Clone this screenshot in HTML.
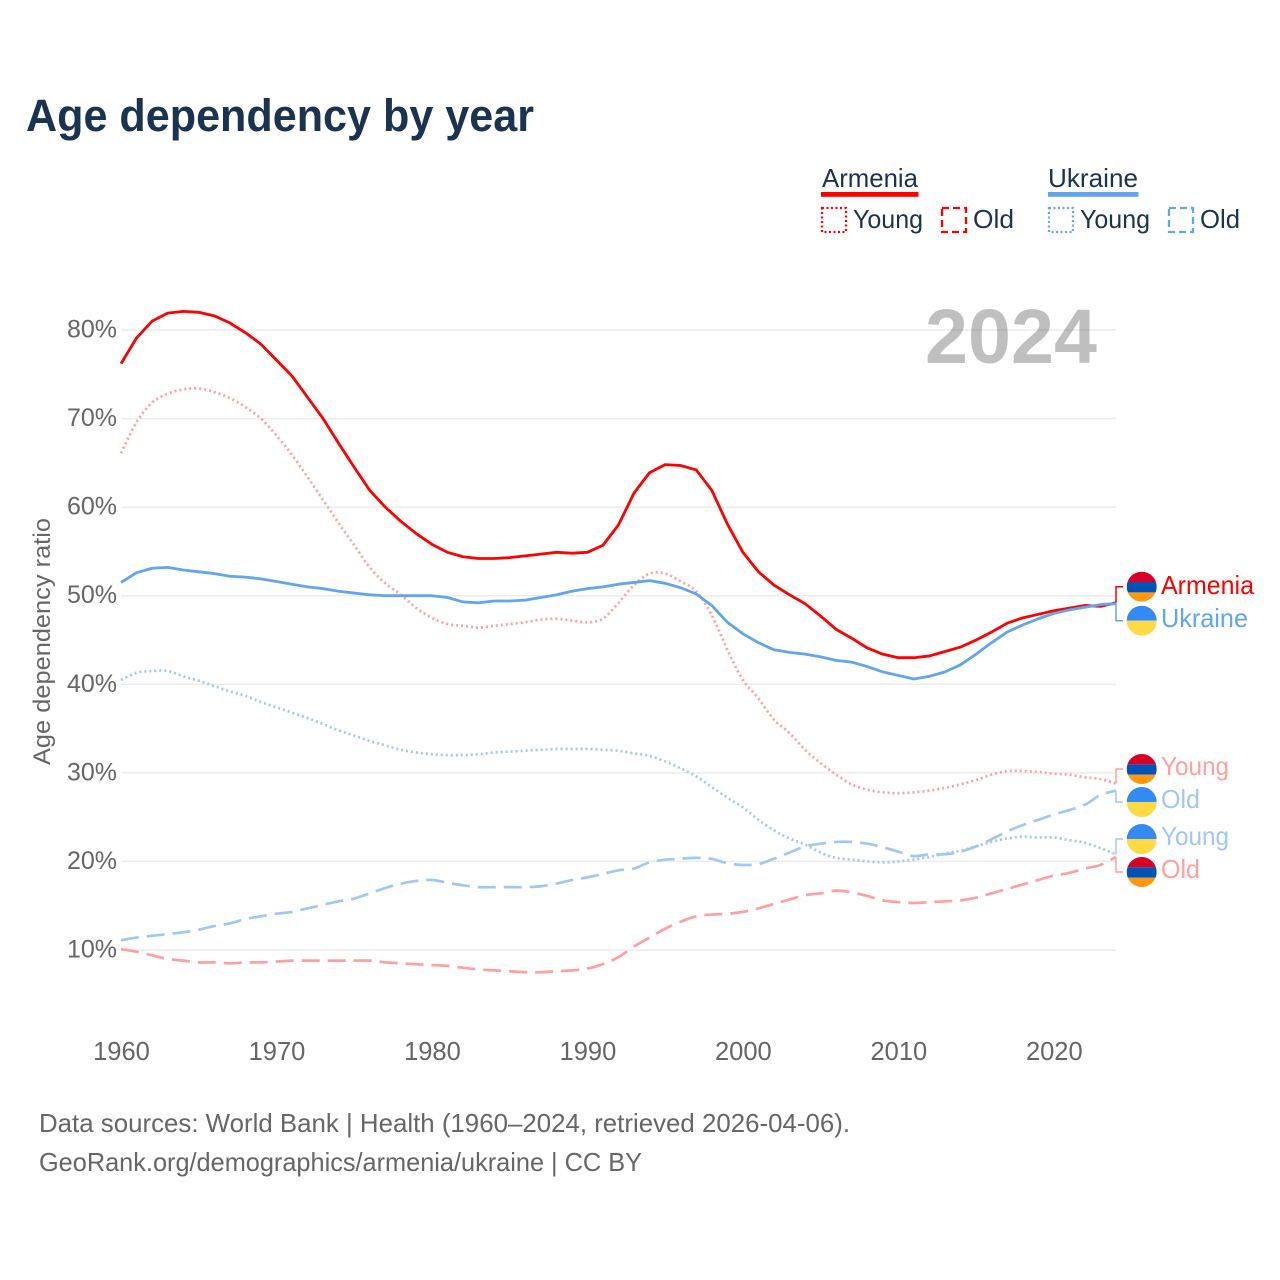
<!DOCTYPE html>
<html lang="en">
<head>
<meta charset="utf-8">
<title>Age dependency by year</title>
<style>
html,body{margin:0;padding:0;background:#fff;}
svg{display:block;font-family:"Liberation Sans",Arial,sans-serif;}
</style>
</head>
<body>
<svg id="chart" xmlns="http://www.w3.org/2000/svg" width="1280" height="1280" viewBox="0 0 1280 1280">
  <rect width="1280" height="1280" fill="#fff"/>
  <text x="26" y="131" font-size="45" font-weight="700" fill="#1a3350" textLength="508" lengthAdjust="spacingAndGlyphs">Age dependency by year</text>

  <g font-size="26" fill="#1a3350">
    <text x="822" y="187" textLength="96" lengthAdjust="spacingAndGlyphs">Armenia</text>
    <rect x="821" y="192" width="97.500" height="4.800" fill="#ff0000"/>
    <rect x="822" y="208" width="24" height="24" fill="none" stroke="#ff0000" stroke-width="2.300" stroke-dasharray="2 2.500"/>
    <text x="853" y="228" textLength="70" lengthAdjust="spacingAndGlyphs">Young</text>
    <rect x="942" y="208" width="24" height="24" fill="none" stroke="#ff0000" stroke-width="2.300" stroke-dasharray="7 4"/>
    <text x="973" y="228" textLength="41" lengthAdjust="spacingAndGlyphs">Old</text>
    <text x="1048" y="187" textLength="90" lengthAdjust="spacingAndGlyphs">Ukraine</text>
    <rect x="1048" y="192" width="90.500" height="4.800" fill="#60a5ee"/>
    <rect x="1049" y="208" width="24" height="24" fill="none" stroke="#60a5ee" stroke-width="2.300" stroke-dasharray="2 2.500"/>
    <text x="1080" y="228" textLength="70" lengthAdjust="spacingAndGlyphs">Young</text>
    <rect x="1169" y="208" width="24" height="24" fill="none" stroke="#60a5ee" stroke-width="2.300" stroke-dasharray="7 4"/>
    <text x="1200" y="228" textLength="40" lengthAdjust="spacingAndGlyphs">Old</text>
  </g>

  <g id="grid"></g>
  <g id="yticks"></g>
  <g id="xticks"></g>
  <text x="925" y="363" font-size="77" font-weight="700" fill="#000" fill-opacity="0.25" textLength="172" lengthAdjust="spacingAndGlyphs">2024</text>
  <text transform="translate(50,765) rotate(-90)" font-size="24.500" fill="#666" textLength="247" lengthAdjust="spacingAndGlyphs">Age dependency ratio</text>
  <g id="series"></g>
  <g id="labels"></g>

  <text x="39" y="1132" font-size="26" fill="#666" textLength="811" lengthAdjust="spacingAndGlyphs">Data sources: World Bank | Health (1960–2024, retrieved 2026-04-06).</text>
  <text x="39" y="1171" font-size="26" fill="#666" textLength="603" lengthAdjust="spacingAndGlyphs">GeoRank.org/demographics/armenia/ukraine | CC BY</text>
</svg>
<script>
const startYear = 1960;
const endYear = 2024;
const xTickLabels = [1960, 1970, 1980, 1990, 2000, 2010, 2020];
const yTickLabels = [10, 20, 30, 40, 50, 60, 70, 80];

const armeniaTotal = [76.2,79.1,81,81.9,82.1,82,81.6,80.8,79.7,78.4,76.6,74.8,72.4,70,67.2,64.5,61.9,60,58.4,57,55.8,54.9,54.4,54.2,54.2,54.3,54.5,54.7,54.9,54.8,54.9,55.7,58,61.6,63.9,64.8,64.7,64.2,61.9,58.1,54.9,52.7,51.2,50.1,49.1,47.7,46.2,45.2,44.1,43.4,43,43,43.2,43.7,44.2,45,45.9,46.9,47.5,47.9,48.3,48.6,48.9,48.8,49.2];
const ukraineTotal = [51.5,52.6,53.1,53.2,52.9,52.7,52.5,52.2,52.1,51.9,51.6,51.3,51,50.8,50.5,50.3,50.1,50,50,50,50,49.8,49.3,49.2,49.4,49.4,49.5,49.8,50.1,50.5,50.8,51,51.3,51.5,51.7,51.4,50.9,50.2,48.9,47,45.7,44.7,43.9,43.6,43.4,43.1,42.7,42.5,42,41.4,41,40.6,40.9,41.4,42.2,43.4,44.7,45.9,46.7,47.4,48,48.4,48.7,49,49.1];
const armeniaYoung = [66.1,69.6,71.8,72.8,73.3,73.4,73,72.3,71.3,70,68.1,65.9,63.4,60.8,58.2,55.7,53.2,51.4,50.1,48.6,47.5,46.8,46.6,46.4,46.6,46.8,47,47.3,47.4,47.2,47,47.4,49.2,51.2,52.5,52.5,51.6,50.5,47.8,43.9,40.5,38.4,36,34.5,32.6,31.1,29.8,28.7,28.1,27.8,27.7,27.8,28,28.3,28.7,29.2,29.8,30.2,30.2,30.1,29.9,29.8,29.5,29.3,28.8];
const ukraineYoung = [40.5,41.3,41.5,41.5,40.9,40.4,39.8,39.2,38.7,38,37.4,36.8,36.2,35.5,34.8,34.2,33.6,33.1,32.6,32.3,32.1,32,32,32.1,32.3,32.4,32.5,32.6,32.7,32.7,32.7,32.6,32.5,32.2,31.9,31.3,30.5,29.6,28.4,27.2,26.1,24.7,23.5,22.6,21.9,21,20.4,20.2,20,19.9,20,20.2,20.5,20.9,21.2,21.7,22.2,22.6,22.8,22.7,22.7,22.4,22.1,21.5,20.8];
const ukraineOld = [11.1,11.4,11.6,11.8,12,12.3,12.7,13,13.5,13.8,14.1,14.3,14.7,15.1,15.5,15.8,16.4,17,17.5,17.8,17.9,17.6,17.3,17.1,17.1,17.1,17.1,17.2,17.5,17.9,18.2,18.6,19,19.2,19.9,20.2,20.3,20.4,20.3,19.8,19.6,19.7,20.3,21,21.7,22,22.2,22.2,22,21.6,21.1,20.6,20.8,20.8,21.1,21.7,22.5,23.4,24.1,24.7,25.3,25.8,26.4,27.5,28];
const armeniaOld = [10.1,9.8,9.4,9,8.8,8.6,8.6,8.5,8.6,8.6,8.7,8.8,8.8,8.8,8.8,8.8,8.8,8.6,8.5,8.4,8.3,8.2,8,7.8,7.7,7.6,7.5,7.5,7.6,7.7,7.9,8.4,9.2,10.4,11.4,12.4,13.2,13.8,14,14.1,14.3,14.7,15.2,15.7,16.2,16.4,16.7,16.5,16.1,15.6,15.4,15.3,15.4,15.5,15.6,15.9,16.4,16.9,17.4,17.9,18.4,18.7,19.2,19.6,20.5];

const NS = 'http://www.w3.org/2000/svg';
const xOf = function (year) { return 121 + (year - startYear) * (1116 - 121) / (endYear - startYear); };
const yOf = function (v) { return 950 - (v - 10) * (950 - 330) / 70; };
const lastValue = function (arr) { return arr[arr.length - 1]; };
const make = function (tag, parent, attrs) {
  const el = document.createElementNS(NS, tag);
  Object.keys(attrs).forEach(function (k) { el.setAttribute(k, attrs[k]); });
  parent.appendChild(el);
  return el;
};

const gridG = document.getElementById('grid');
const yG = document.getElementById('yticks');
const xG = document.getElementById('xticks');
const seriesG = document.getElementById('series');
const labelsG = document.getElementById('labels');

yTickLabels.forEach(function (v) {
  const line = make('line', gridG, { x1: 121, x2: 1116, y1: yOf(v), y2: yOf(v), stroke: '#ececec', 'stroke-width': 1.5 });
  
  
  const t = make('text', yG, { x: 117, y: yOf(v) + 7.5, 'text-anchor': 'end', 'font-size': 25, fill: '#666' });
  t.textContent = v + '%';
  
  
});

xTickLabels.forEach(function (yr) {
  const t = make('text', xG, { x: xOf(yr) + 0.5, y: 1060, 'text-anchor': 'middle', 'font-size': 25.5, fill: '#666' });
  t.textContent = yr;
  
  
});

const linearPath = function (values) {
  return values.map(function (v, i) {
    return (i === 0 ? 'M' : 'L') + xOf(startYear + i).toFixed(2) + ',' + yOf(v).toFixed(2);
  }).join('');
};

const smoothPath = function (values) {
  const p = values.map(function (v, i) { return [xOf(startYear + i), yOf(v)]; });
  let d = 'M' + p[0][0].toFixed(2) + ',' + p[0][1].toFixed(2);
  for (let i = 0; i < p.length - 1; i++) {
    const a = p[Math.max(i - 1, 0)], b = p[i], c = p[i + 1], e = p[Math.min(i + 2, p.length - 1)];
    const c1x = b[0] + (c[0] - a[0]) / 6, c1y = b[1] + (c[1] - a[1]) / 6;
    const c2x = c[0] - (e[0] - b[0]) / 6, c2y = c[1] - (e[1] - b[1]) / 6;
    d += 'C' + c1x.toFixed(2) + ',' + c1y.toFixed(2) + ' ' + c2x.toFixed(2) + ',' + c2y.toFixed(2) + ' ' + c[0].toFixed(2) + ',' + c[1].toFixed(2);
  }
  return d;
};

const drawSeries = function (name, values, color, width, dash) {
  const attrs = { d: dash ? smoothPath(values) : linearPath(values), fill: 'none', stroke: color, 'stroke-width': width, 'stroke-linejoin': 'round' };
  if (dash) { attrs['stroke-dasharray'] = dash; }
  const line = make('path', seriesG, attrs);
  
  
};

const RED = '#ff0000', BLUE = '#60a5ee', PINK = '#ff9f9f', SKY = '#a0c8f3';
const DOT = '2 3', DASH = '18 8';
drawSeries('line-armenia-old', armeniaOld, PINK, 2.7, DASH);
drawSeries('line-ukraine-old', ukraineOld, SKY, 2.7, DASH);
drawSeries('line-armenia-young', armeniaYoung, PINK, 2.7, DOT);
drawSeries('line-ukraine-young', ukraineYoung, SKY, 2.7, DOT);
drawSeries('line-armenia-total', armeniaTotal, RED, 2.8, null);
drawSeries('line-ukraine-total', ukraineTotal, BLUE, 2.8, null);

const FX = 1141.7, FR = 15;
let clipCount = 0;
const drawFlag = function (group, cy, country) {
  clipCount += 1;
  const id = 'flag-clip-' + clipCount;
  const clip = make('clipPath', group, { id: id });
  make('circle', clip, { cx: FX, cy: cy, r: FR });
  const g = make('g', group, { 'clip-path': 'url(#' + id + ')' });
  
  
  const bands = country === 'armenia'
    ? [['#d80027', 0, 10.3], ['#0052b4', 10.3, 10.4], ['#ff9811', 20.7, 9.3]]
    : [['#338af3', 0, 15], ['#ffda44', 15, 15]];
  bands.forEach(function (b) {
    make('rect', g, { x: FX - FR, y: cy - FR + b[1], width: 2 * FR, height: b[2], fill: b[0] });
  });
};

const drawEndLabel = function (name, text, values, cy, color, country, textWidth, baseline) {
  const g = make('g', labelsG, {});
  
  
  const ey = yOf(lastValue(values)).toFixed(2);
  make('path', g, { d: 'M1116,' + ey + ' L1116,' + cy + ' L1123,' + cy, fill: 'none', stroke: color, 'stroke-width': 1.5 });
  drawFlag(g, cy, country);
  const t = make('text', g, { x: 1161, y: baseline, 'font-size': 26, fill: color, textLength: textWidth, lengthAdjust: 'spacingAndGlyphs' });
  t.textContent = text;
};

drawEndLabel('end-label-armenia', 'Armenia', armeniaTotal, 586.7, RED, 'armenia', 93, 594);
drawEndLabel('end-label-ukraine', 'Ukraine', ukraineTotal, 620.7, BLUE, 'ukraine', 87, 627);
drawEndLabel('end-label-armenia-young', 'Young', armeniaYoung, 769, PINK, 'armenia', 68, 775);
drawEndLabel('end-label-ukraine-old', 'Old', ukraineOld, 802, SKY, 'ukraine', 39, 808);
drawEndLabel('end-label-ukraine-young', 'Young', ukraineYoung, 839, SKY, 'ukraine', 68, 845);
drawEndLabel('end-label-armenia-old', 'Old', armeniaOld, 872, PINK, 'armenia', 39, 878);
</script>
</body>
</html>
